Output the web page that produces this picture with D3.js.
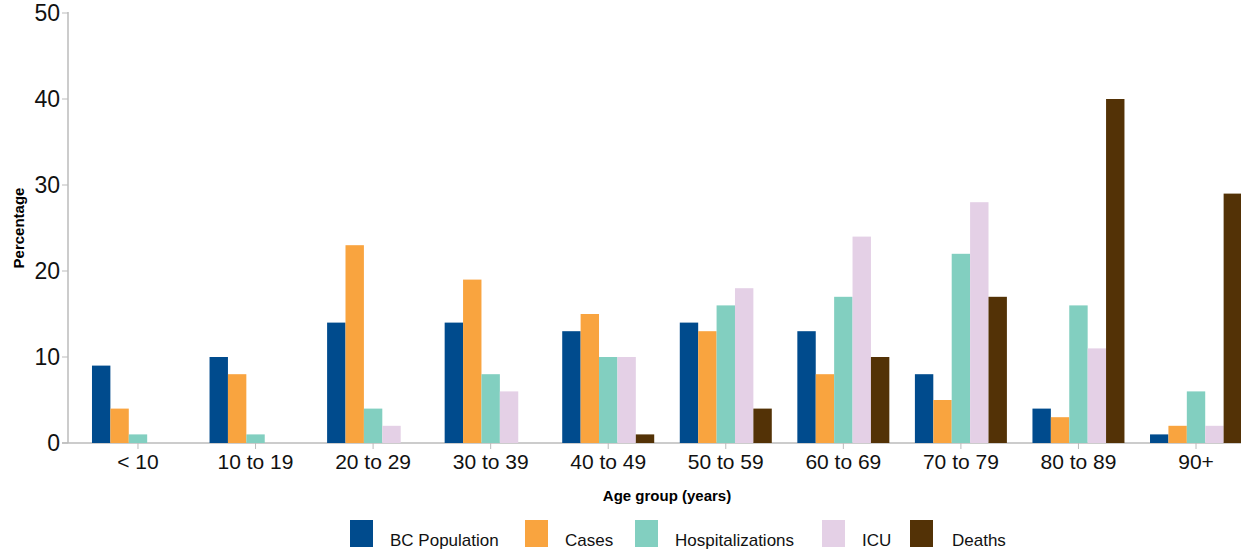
<!DOCTYPE html>
<html>
<head>
<meta charset="utf-8">
<style>
  body { margin: 0; background: #fff; }
  text { font-family: "Liberation Sans", Arial, sans-serif; }
</style>
</head>
<body>
<svg width="1241" height="549"></svg>
<script src="https://d3js.org/d3.v7.min.js"></script>
<script>
// age groups and series (percent)
const ageGroups = ["< 10", "10 to 19", "20 to 29", "30 to 39", "40 to 49", "50 to 59", "60 to 69", "70 to 79", "80 to 89", "90+"];
const seriesNames = ["BC Population", "Cases", "Hospitalizations", "ICU", "Deaths"];
const bcPopulation = [9, 10, 14, 14, 13, 14, 13, 8, 4, 1];
const cases = [4, 8, 23, 19, 15, 13, 8, 5, 3, 2];
const hospitalizations = [1, 1, 4, 8, 10, 16, 17, 22, 16, 6];
const icu = [0, 0, 2, 6, 10, 18, 24, 28, 11, 2];
const deaths = [0, 0, 0, 0, 1, 4, 10, 17, 40, 29];
const yTicks = [0, 10, 20, 30, 40, 50];

const colors = ["#004b8d", "#f9a43f", "#82cfc0", "#e4d0e6", "#533206"];
const allSeries = [bcPopulation, cases, hospitalizations, icu, deaths];

const svg = d3.select("svg");

const x = d3.scaleBand().domain(ageGroups).range([79.2, 1254.8]);
const sub = d3.scaleBand().domain(seriesNames).range([x.step() / 2 - 46, x.step() / 2 + 46]);
const y = d3.scaleLinear().domain([0, 50]).range([443, 13]);

// axes
svg.append("line").attr("x1", 68).attr("x2", 68).attr("y1", 12).attr("y2", 443)
  .attr("stroke", "#bbb").attr("stroke-width", 1.5);
svg.append("line").attr("x1", 62).attr("x2", 1241).attr("y1", 443).attr("y2", 443)
  .attr("stroke", "#bbb").attr("stroke-width", 1.5);

svg.selectAll(".ytick").data(yTicks).enter().append("text")
  .attr("x", 60).attr("y", d => y(d) + 8)
  .attr("text-anchor", "end").attr("font-size", 23).attr("fill", "#111")
  .text(d => d);
svg.selectAll(".ytk").data(yTicks).enter().append("line")
  .attr("x1", 62).attr("x2", 68).attr("y1", d => y(d)).attr("y2", d => y(d))
  .attr("stroke", "#bbb");

svg.selectAll(".xtk").data(ageGroups).enter().append("line")
  .attr("x1", d => x(d) + x.step() / 2).attr("x2", d => x(d) + x.step() / 2)
  .attr("y1", 443).attr("y2", 449).attr("stroke", "#bbb");
svg.selectAll(".xlab").data(ageGroups).enter().append("text")
  .attr("x", d => x(d) + x.step() / 2).attr("y", 469)
  .attr("text-anchor", "middle").attr("font-size", 21).attr("fill", "#111")
  .text(d => d);

// bars
allSeries.forEach((vals, i) => {
  svg.append("g").selectAll("rect").data(vals).enter().append("rect")
    .attr("x", (d, j) => x(ageGroups[j]) + sub(seriesNames[i]))
    .attr("width", sub.bandwidth())
    .attr("y", d => y(d))
    .attr("height", d => y(0) - y(d))
    .attr("fill", colors[i]);
});

// titles
svg.append("text").attr("x", 667).attr("y", 501).attr("text-anchor", "middle")
  .attr("font-size", 15).attr("font-weight", "bold").text("Age group (years)");
svg.append("text").attr("transform", "translate(24,228) rotate(-90)")
  .attr("text-anchor", "middle").attr("font-size", 15).attr("font-weight", "bold").text("Percentage");

// legend
const legX = [350, 525, 635, 822, 910];
const legTextX = [390, 565, 675, 862, 952];
seriesNames.forEach((n, i) => {
  svg.append("rect").attr("x", legX[i]).attr("y", 520).attr("width", 23).attr("height", 27).attr("fill", colors[i]);
  svg.append("text").attr("x", legTextX[i]).attr("y", 546).attr("font-size", 17).attr("fill", "#111").text(n);
});
</script>
</body>
</html>
